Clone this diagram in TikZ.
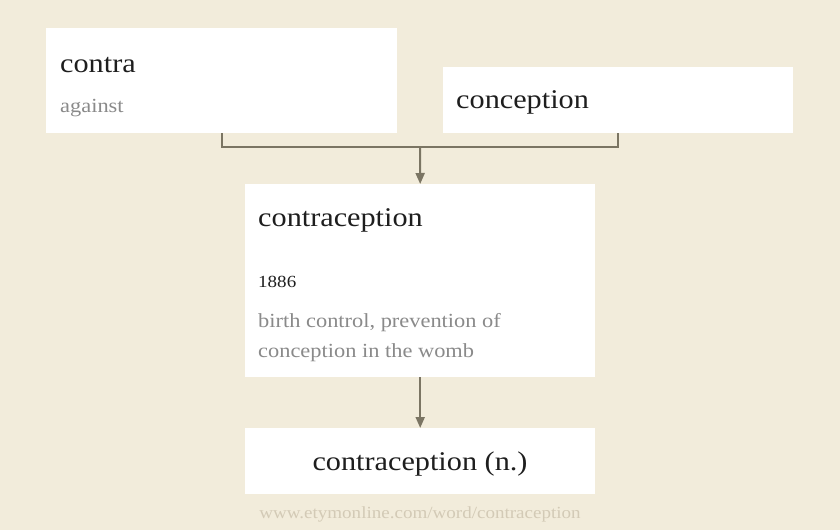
\documentclass[tikz,border=0pt]{standalone}
\usepackage{fontspec}
\setmainfont{Liberation Serif}[FakeStretch=1.12]
\usetikzlibrary{arrows.meta}
\definecolor{bg}{HTML}{F2ECDB}
\definecolor{conn}{HTML}{7B7563}
\definecolor{greytext}{HTML}{8A8A8A}
\definecolor{foot}{HTML}{D3CAB6}
\definecolor{ink}{HTML}{1E1E1E}
\tikzset{
  box/.style={fill=white, draw=none, inner sep=0pt, anchor=north west},
  headword/.style={font=\fontsize{27}{30}\selectfont, text=ink, anchor=base west, inner sep=0pt},
  gloss/.style={font=\fontsize{20}{30}\selectfont, text=greytext, anchor=base west, inner sep=0pt},
  datetext/.style={font=\fontsize{17}{20}\selectfont, text=ink, anchor=base west, inner sep=0pt},
  link/.style={draw=conn, line width=2pt},
  arrowlink/.style={link, -{Triangle[length=11pt,width=9pt]}},
  footer/.style={font=\fontsize{17}{20}\selectfont, text=foot, anchor=base, inner sep=0pt}
}
\begin{document}
\begin{tikzpicture}[x=1pt,y=-1pt]
\fill[bg] (0,0) rectangle (840,530);
\useasboundingbox (0,0) rectangle (840,530);
% boxes
\node[box, minimum width=351pt, minimum height=105pt] (contra) at (46,28) {};
\node[box, minimum width=350pt, minimum height=66pt] (conception) at (443,67) {};
\node[box, minimum width=350pt, minimum height=193pt] (contraception) at (245,184) {};
\node[box, minimum width=350pt, minimum height=66pt] (final) at (245,428) {};
% texts
\node[headword] (t1) at (60,72) {contra};
\node[gloss] (t2) at (60,112) {against};
\node[headword] (t3) at (456,108) {conception};
\node[headword] (t4) at (258,226) {contraception};
\node[datetext] (t5) at (258,287) {1886};
\node[gloss] (t6) at (258,327) {birth control, prevention of};
\node[gloss] (t7) at (258,357) {conception in the womb};
\node[headword, anchor=base] (t8) at (420,470) {contraception (n.)};
\node[footer] (t9) at (420,518) {www.etymonline.com/word/contraception};
% connectors
\coordinate (join) at (420,147);
\draw[link] (contra.south) |- (join) -| (conception.south);
\draw[arrowlink] (join) -- (contraception.north);
\draw[arrowlink] (contraception.south) -- (final.north);
\end{tikzpicture}
\end{document}
